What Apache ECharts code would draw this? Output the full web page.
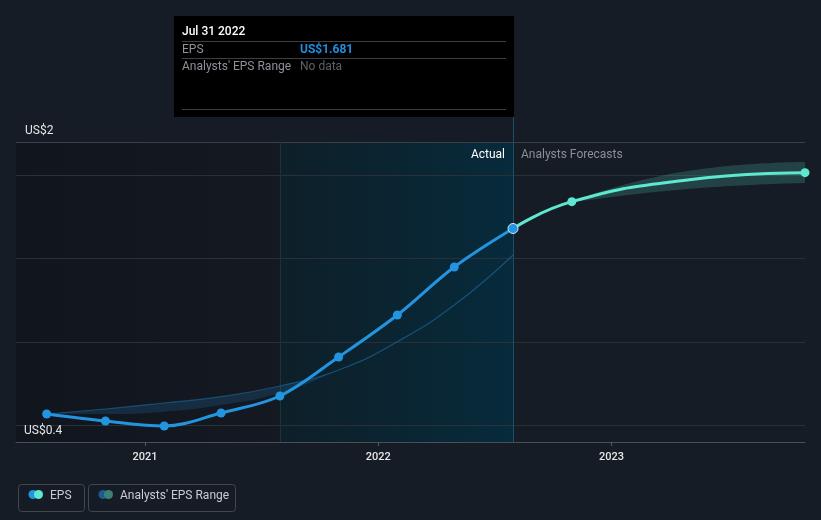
<!DOCTYPE html>
<html>
<head>
<meta charset="utf-8">
<script src="https://cdn.jsdelivr.net/npm/echarts@6/dist/echarts.min.js"></script>
<style>
html, body { margin: 0; padding: 0; background: #161c26; }
#chart { width: 821px; height: 520px; }
</style>
</head>
<body>
<div id="chart"></div>
<script>
// EPS actuals (quarterly, trailing)
var epsDates = ['2020-07-31', '2020-10-31', '2021-01-31', '2021-04-30', '2021-07-31', '2021-10-31', '2022-01-31', '2022-04-30', '2022-07-31'];
var epsValues = [0.568, 0.526, 0.496, 0.574, 0.676, 0.910, 1.162, 1.450, 1.681];

// past analyst estimates range
var pastLow = [0.568, 0.568, 0.582, 0.622, 0.694, 0.832, 1.002, 1.222, 1.522];
var pastHigh = [0.568, 0.598, 0.634, 0.672, 0.736, 0.832, 1.002, 1.222, 1.522];

// forecasts
var forecastDates = ['2022-07-31', '2022-10-31', '2023-04-30', '2023-10-31'];
var forecastValues = [1.681, 1.842, 1.972, 2.016];
var rangeDates = ['2022-10-31', '2023-04-30', '2023-10-31'];
var rangeLow = [1.838, 1.918, 1.954];
var rangeHigh = [1.846, 2.026, 2.080];

var yTicks = [0.5, 1.0, 1.5, 2.0];

function t(d) { return +new Date(d); }
function pairs(dates, vals) {
    var out = [];
    for (var i = 0; i < dates.length; i++) out.push([t(dates[i]), vals[i]]);
    return out;
}
function diffPairs(dates, lo, hi) {
    var out = [];
    for (var i = 0; i < dates.length; i++) out.push([t(dates[i]), +(hi[i] - lo[i]).toFixed(4)]);
    return out;
}

var myChart = echarts.init(document.getElementById('chart'));

var gridMarks = [];
for (var i = 0; i < yTicks.length; i++) {
    gridMarks.push({ yAxis: yTicks[i] });
}
gridMarks.push({ yAxis: 2.2, lineStyle: { color: '#3a3f48' } });
gridMarks.push({ xAxis: t('2021-07-31'), lineStyle: { color: '#173440' } });
gridMarks.push({ xAxis: t('2022-07-31'), lineStyle: { color: '#1f4f66' } });

var epsData = pairs(epsDates, epsValues);
epsData[epsData.length - 1] = {
    value: epsData[epsData.length - 1],
    symbolSize: 10,
    itemStyle: { color: '#2394df', borderColor: '#d8ecff', borderWidth: 1 }
};

var fcData = pairs(forecastDates, forecastValues).map(function (p, i) {
    if (i === 0 || i === 2) return { value: p, symbol: 'none' };
    return p;
});

var font = 'Roboto, "Noto Sans", sans-serif';

var option = {
    backgroundColor: '#161c26',
    animation: false,
    textStyle: { fontFamily: font },
    grid: { left: 16, right: 16, top: 142, bottom: 78 },
    xAxis: {
        type: 'time',
        min: t('2020-06-13'),
        max: t('2023-10-31'),
        minInterval: 365 * 24 * 3600 * 1000,
        axisLine: { lineStyle: { color: '#4a4f57', width: 1 } },
        axisTick: { show: true, length: 4, lineStyle: { color: '#555b66' } },
        splitLine: { show: false },
        axisLabel: {
            formatter: '{yyyy}',
            color: '#e6e6e6',
            fontSize: 11,
            fontWeight: 500,
            margin: 10,
            showMinLabel: false,
            showMaxLabel: false
        }
    },
    yAxis: {
        type: 'value',
        min: 0.4,
        max: 2.2,
        axisLine: { show: false },
        axisTick: { show: false },
        axisLabel: { show: false },
        splitLine: { show: false }
    },
    series: [
        {
            name: 'grid',
            type: 'line',
            z: 1,
            silent: true,
            data: pairs(epsDates, epsValues),
            symbol: 'none',
            lineStyle: { opacity: 0 },
            markArea: {
                silent: true,
                z: 0,
                data: [
                    [{ xAxis: t('2020-06-13'), itemStyle: { color: new echarts.graphic.LinearGradient(0, 0, 1, 0, [
                        { offset: 0, color: 'rgba(8,10,14,0.35)' },
                        { offset: 1, color: 'rgba(8,10,14,0.18)' }
                    ]) } }, { xAxis: t('2021-07-31') }],
                    [{ xAxis: t('2021-07-31'), itemStyle: { color: new echarts.graphic.LinearGradient(0, 0, 1, 0, [
                        { offset: 0, color: 'rgba(8,34,44,0.6)' },
                        { offset: 1, color: 'rgba(4,46,64,0.85)' }
                    ]) } }, { xAxis: t('2022-07-31') }]
                ]
            },
            markLine: {
                silent: true,
                z: 1,
                symbol: ['none', 'none'],
                label: { show: false },
                lineStyle: { color: '#2a2f38', width: 1, type: 'solid' },
                data: gridMarks
            }
        },
        {
            name: 'pastLow',
            type: 'line',
            stack: 'past',
            stackStrategy: 'all',
            smooth: 0.5,
            symbol: 'none',
            silent: true,
            lineStyle: { opacity: 0 },
            data: pairs(epsDates, pastLow),
            z: 2
        },
        {
            name: "Analysts' EPS Range",
            type: 'line',
            stack: 'past',
            stackStrategy: 'all',
            smooth: 0.5,
            symbol: 'none',
            silent: true,
            lineStyle: { color: 'rgba(40,130,200,0.45)', width: 1.2 },
            areaStyle: { color: 'rgba(34,110,170,0.35)' },
            data: diffPairs(epsDates, pastLow, pastHigh),
            z: 2
        },
        {
            name: 'fcLow',
            type: 'line',
            stack: 'fc',
            stackStrategy: 'all',
            smooth: true,
            symbol: 'none',
            silent: true,
            lineStyle: { opacity: 0 },
            data: pairs(rangeDates, rangeLow),
            z: 2
        },
        {
            name: 'fcRange',
            type: 'line',
            stack: 'fc',
            stackStrategy: 'all',
            smooth: true,
            symbol: 'none',
            silent: true,
            lineStyle: { opacity: 0 },
            areaStyle: { color: 'rgba(94,232,208,0.27)' },
            data: diffPairs(rangeDates, rangeLow, rangeHigh),
            z: 2
        },
        {
            name: 'EPS forecast',
            type: 'line',
            smooth: true,
            symbol: 'circle',
            symbolSize: 9,
            showAllSymbol: true,
            clip: false,
            color: '#5ee8d0',
            lineStyle: { color: '#5ee8d0', width: 3 },
            data: fcData,
            z: 3
        },
        {
            name: 'EPS',
            type: 'line',
            smooth: 0.35,
            symbol: 'circle',
            symbolSize: 9,
            showAllSymbol: true,
            color: '#2394df',
            lineStyle: { color: '#2394df', width: 3 },
            data: epsData,
            z: 4
        }
    ],
    graphic: [
        // hover tooltip box
        { type: 'rect', left: 174, top: 16, shape: { width: 340, height: 101 }, style: { fill: '#000000' }, z: 10 },
        { type: 'text', left: 182, top: 26, style: { text: 'Jul 31 2022', fill: '#ffffff', font: '500 12px ' + font }, z: 11 },
        { type: 'line', shape: { x1: 182, y1: 41.5, x2: 506, y2: 41.5 }, style: { stroke: '#3b3e44', lineWidth: 1 }, z: 11 },
        { type: 'text', left: 182, top: 44, style: { text: 'EPS', fill: '#8e9299', font: '12px ' + font }, z: 11 },
        { type: 'text', left: 300, top: 44, style: { text: 'US$1.681', fill: '#1e8fe0', font: 'bold 12px ' + font }, z: 11 },
        { type: 'line', shape: { x1: 182, y1: 58.5, x2: 506, y2: 58.5 }, style: { stroke: '#3b3e44', lineWidth: 1 }, z: 11 },
        { type: 'text', left: 182, top: 61, style: { text: "Analysts' EPS Range", fill: '#8e9299', font: '12px ' + font }, z: 11 },
        { type: 'text', left: 300, top: 61, style: { text: 'No data', fill: '#5c6066', font: '12px ' + font }, z: 11 },
        { type: 'line', shape: { x1: 182, y1: 109.5, x2: 506, y2: 109.5 }, style: { stroke: '#3b3e44', lineWidth: 1 }, z: 11 },
        { type: 'line', shape: { x1: 513.5, y1: 117, x2: 513.5, y2: 142 }, style: { stroke: '#1f4f66', lineWidth: 1 }, z: 5 },

        // section labels
        { type: 'text', right: 316, top: 149, style: { text: 'Actual', fill: '#ffffff', font: '12px ' + font }, z: 6 },
        { type: 'text', left: 521, top: 149, style: { text: 'Analysts Forecasts', fill: '#8a8e96', font: '12px ' + font }, z: 6 },

        // y labels
        { type: 'text', left: 25, top: 125, style: { text: 'US$2', fill: '#e6e6e6', font: '12px ' + font }, z: 6 },
        { type: 'text', left: 24, top: 425, style: { text: 'US$0.4', fill: '#e6e6e6', font: '12px ' + font }, z: 6 },

        // legend
        { type: 'rect', left: 16, top: 482, shape: { width: 66, height: 27, r: 3 }, style: { fill: 'none', stroke: '#41464f', lineWidth: 1 } },
        { type: 'circle', shape: { cx: 33, cy: 494.5, r: 4.5 }, style: { fill: '#2394df' } },
        { type: 'circle', shape: { cx: 38.5, cy: 494.5, r: 4.5 }, style: { fill: '#5ee8d0' } },
        { type: 'text', left: 50, top: 490, style: { text: 'EPS', fill: '#c9ccd2', font: '12px ' + font } },
        { type: 'rect', left: 86, top: 482, shape: { width: 147, height: 27, r: 3 }, style: { fill: 'none', stroke: '#41464f', lineWidth: 1 } },
        { type: 'circle', shape: { cx: 103, cy: 494.5, r: 4.5 }, style: { fill: '#1d5c8c' } },
        { type: 'circle', shape: { cx: 108.5, cy: 494.5, r: 4.5 }, style: { fill: '#3d8079' } },
        { type: 'text', left: 120, top: 490, style: { text: "Analysts' EPS Range", fill: '#c9ccd2', font: '12px ' + font } }
    ]
};

myChart.setOption(option);
</script>
</body>
</html>
